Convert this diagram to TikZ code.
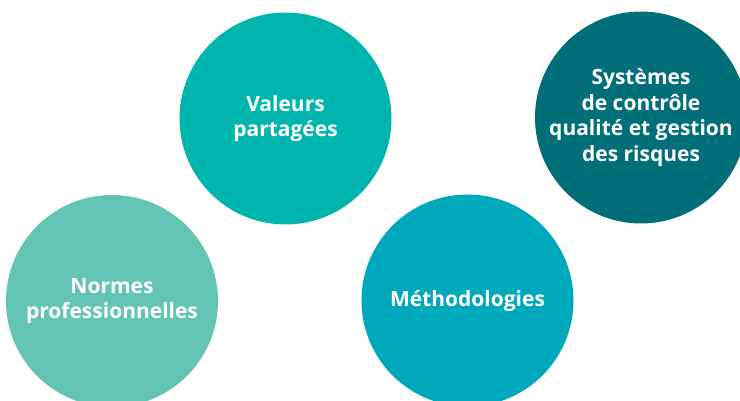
\documentclass[tikz,border=0pt]{standalone}
\usepackage{fontspec}
\setmainfont{Open Sans}
\usetikzlibrary{positioning}

\definecolor{valeurs}{HTML}{00B5AD}
\definecolor{systemes}{HTML}{006F79}
\definecolor{normes}{HTML}{63C4B3}
\definecolor{methodes}{HTML}{00A8BC}

\tikzset{
	pilier/.style={circle, minimum size=212pt, inner sep=0pt, text=white, align=center,
		font=\fontsize{21}{25.5}\selectfont\bfseries}
}

\begin{document}
\begin{tikzpicture}[x=1pt, y=-1pt]
			%%%%% START %%%%%
			
			\useasboundingbox (0, 0) rectangle (740, 401);
			\clip (0, 0) rectangle (740, 401);
			
			\node[pilier, fill=valeurs] (valeurs) at (285.5, 118.5) {Valeurs\\partagées};
			\node[pilier, fill=systemes] (systemes) at (641, 117.5) {Systèmes\\de contrôle\\qualité et gestion\\des risques};
			
			\node[pilier, fill=normes] (normes) at (112, 301) {Normes\\professionnelles};
			\node[pilier, fill=methodes] (methodes) at (467.5, 300.5) {Méthodologies};
			
			%%%%% END %%%%%
\end{tikzpicture}
\end{document}
